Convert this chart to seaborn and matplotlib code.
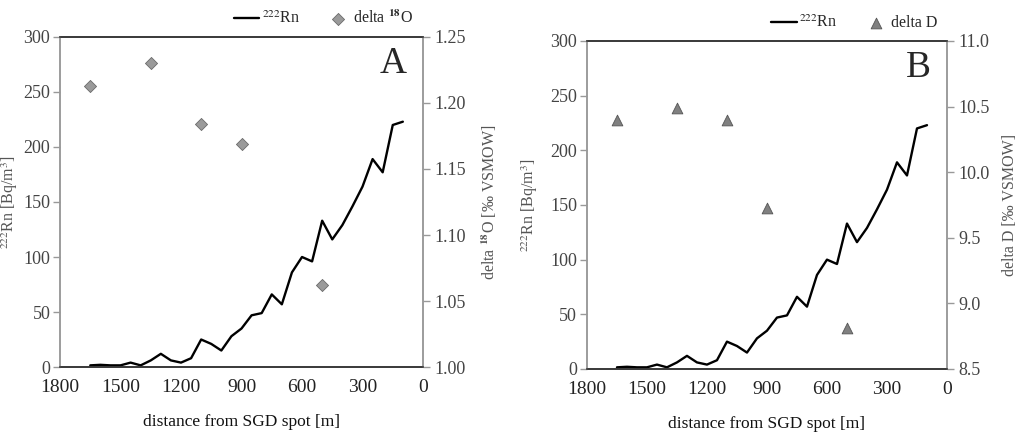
import numpy as np
import pandas as pd
import matplotlib
matplotlib.use("Agg")
import matplotlib.pyplot as plt
import seaborn as sns

sns.set_style("white")
plt.rcParams['font.family'] = ['Liberation Serif', 'DejaVu Serif']
plt.rcParams['mathtext.fontset'] = 'stix'

# radon profile along the transect
distance = [1650, 1600, 1550, 1500, 1450, 1400, 1350, 1300, 1250, 1200, 1150,
            1100, 1050, 1000, 950, 900, 850, 800, 750, 700, 650, 600, 550,
            500, 450, 400, 350, 300, 250, 200, 150, 100]
radon = [1.5, 2, 1.5, 1.5, 4, 1.5, 6, 12, 6, 4, 8,
         25, 21, 15, 28, 35, 47, 49, 66, 57, 86, 100, 96,
         133, 116, 129, 146, 164, 189, 177, 220, 223]

# isotope samples
iso_dist = [1650, 1350, 1100, 900, 500]
delta_18o = [1.213, 1.230, 1.184, 1.169, 1.062]
delta_d = [10.40, 10.49, 10.40, 9.73, 8.81]

rn = pd.DataFrame({"distance": distance, "radon": radon})

fig = plt.figure(figsize=(10.24, 4.44), dpi=100)

panels = [
    dict(rect=[0.0586, 0.1734, 0.3545, 0.7433], letter="A", iso=delta_18o,
         ylim=(1.0, 1.25), yticks=np.arange(1.0, 1.2501, 0.05), fmt="{:.2f}",
         marker="D", size=38, color="#9a9a9a", edge="#6a6a6a",
         label=r"delta $^{\mathbf{18}}$O", ylabel=r"delta $^{\mathbf{18}}$O [‰ VSMOW]",
         lx=-0.11, rx=1.157),
    dict(rect=[0.5732, 0.1690, 0.3516, 0.7387], letter="B", iso=delta_d,
         ylim=(8.5, 11.0), yticks=np.arange(8.5, 11.01, 0.5), fmt="{:.1f}",
         marker="^", size=60, color="#808080", edge="#555555",
         label="delta D", ylabel="delta D [‰ VSMOW]",
         lx=-0.13, rx=1.153),
]

tick_col = "#444444"
for p in panels:
    ax = fig.add_axes(p["rect"])
    sns.lineplot(data=rn, x="distance", y="radon", ax=ax, color="black",
                 linewidth=1.7, label=r"$^{222}$Rn", legend=False)
    ax.set_xlim(1800, 0)
    ax.set_ylim(0, 300)
    ax.set_xticks(range(1800, -1, -300))
    ax.set_yticks(range(0, 301, 50))
    ax.set_xlabel("distance from SGD spot [m]", fontsize=12.5, color="#111111",
                  labelpad=13)
    ax.set_ylabel(r"$^{222}$Rn [Bq/m$^3$]", fontsize=11.5, color="#555555")
    ax.yaxis.set_label_coords(p["lx"], 0.5)
    ax.tick_params(axis="x", direction="inout", length=7, width=1,
                   colors="#333333", labelsize=14, labelcolor="#222222", pad=5)
    ax.tick_params(axis="y", direction="out", length=5, width=1,
                   colors="#999999", labelsize=13, labelcolor=tick_col, pad=2)
    ax.text(0.955, 0.97, p["letter"], transform=ax.transAxes, ha="right",
            va="top", fontsize=27)

    ax2 = ax.twinx()
    sns.scatterplot(x=iso_dist, y=p["iso"], ax=ax2, marker=p["marker"],
                    s=p["size"], color=p["color"], edgecolor=p["edge"],
                    linewidth=0.6, label=p["label"], legend=False, zorder=3)
    ax2.set_ylim(*p["ylim"])
    ax2.set_yticks(p["yticks"])
    ax2.set_yticklabels([p["fmt"].format(v) for v in p["yticks"]])
    ax2.set_ylabel(p["ylabel"], fontsize=11.5, color="#555555")
    ax2.yaxis.set_label_coords(p["rx"], 0.5)
    ax2.tick_params(axis="y", direction="out", length=5, width=1,
                    colors="#999999", labelsize=13, labelcolor=tick_col, pad=3)

    for a in (ax, ax2):
        a.spines["top"].set_color("#333333")
        a.spines["bottom"].set_color("#333333")
        a.spines["left"].set_color("#999999")
        a.spines["right"].set_color("#999999")
        for s in a.spines.values():
            s.set_linewidth(1.1)

    h1, l1 = ax.get_legend_handles_labels()
    h2, l2 = ax2.get_legend_handles_labels()
    ax2.legend(h1 + h2, l1 + l2, loc="lower right", bbox_to_anchor=(1.0, 1.0),
               ncol=2, frameon=False, fontsize=11.5, handlelength=1.6,
               columnspacing=1.6, handletextpad=0.15, borderaxespad=0.2)

fig.savefig("out.png", dpi=100)
